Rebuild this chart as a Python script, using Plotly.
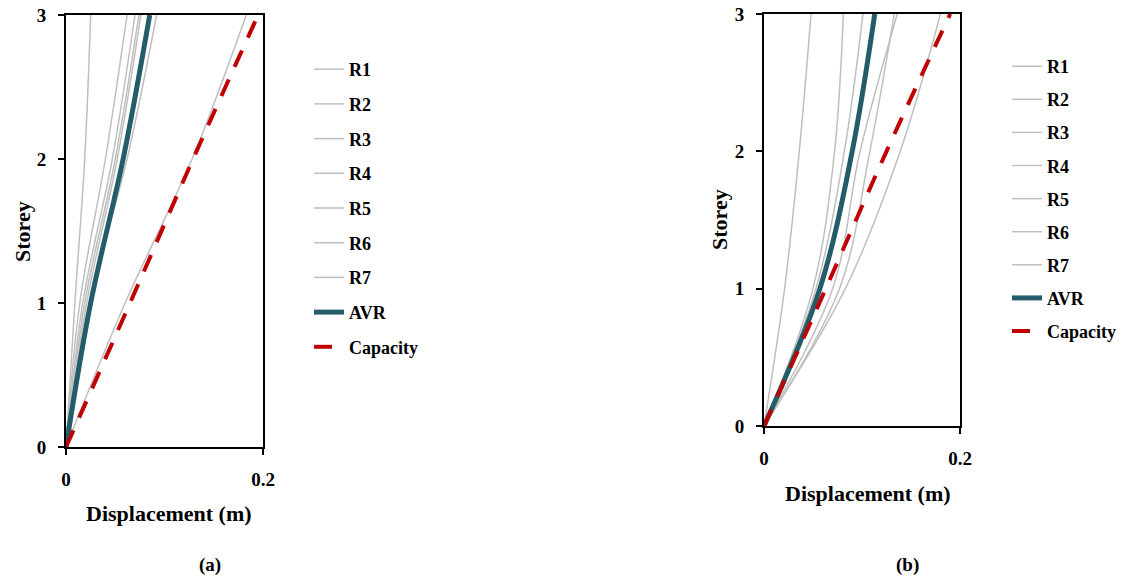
import plotly.graph_objects as go

# Storey levels shared by every profile
storeys = [0, 1, 2, 3]

# (a) peak storey displacements (m) for each record, the average and the capacity
a_R1 = [0, 0.009, 0.019, 0.025]
a_R2 = [0, 0.014, 0.040, 0.062]
a_R3 = [0, 0.017, 0.047, 0.070]
a_R4 = [0, 0.019, 0.050, 0.074]
a_R5 = [0, 0.021, 0.052, 0.076]
a_R6 = [0, 0.024, 0.062, 0.092]
a_R7 = [0, 0.060, 0.128, 0.183]
a_AVR = [0, 0.025, 0.058, 0.085]
a_capacity = [0, 0.065, 0.129, 0.195]

# (b) peak storey displacements (m)
b_R1 = [0, 0.021, 0.036, 0.048]
b_R2 = [0, 0.050, 0.072, 0.081]
b_R3 = [0, 0.053, 0.082, 0.101]
b_R4 = [0, 0.056, 0.090, 0.112]
b_R5 = [0, 0.070, 0.098, 0.136]
b_R6 = [0, 0.077, 0.108, 0.133]
b_R7 = [0, 0.083, 0.139, 0.180]
b_AVR = [0, 0.057, 0.090, 0.113]
b_capacity = [0, 0.063, 0.125, 0.190]

record_names = ["R1", "R2", "R3", "R4", "R5", "R6", "R7"]
x_ticks = [0, 0.2]
x_ticktext = ["0", "0.2"]
y_ticks = [0, 1, 2, 3]

GRAY = "#BFBFBF"
TEAL = "#245C6A"
RED = "#C00000"
FONT = "Liberation Serif"

W, H = 1125, 580

fig = go.Figure()


def add_panel(records, avr, capacity, xref, yref, legend_name):
    for name, vals in zip(record_names, records):
        fig.add_trace(go.Scatter(
            x=vals, y=storeys, name=name, mode="lines",
            line=dict(color=GRAY, width=1.5, shape="spline"),
            xaxis=xref, yaxis=yref, legend=legend_name,
            legendgroup=legend_name + name,
        ))
    fig.add_trace(go.Scatter(
        x=avr, y=storeys, name="AVR", mode="lines",
        line=dict(color=TEAL, width=5, shape="spline"),
        xaxis=xref, yaxis=yref, legend=legend_name,
        legendgroup=legend_name + "AVR",
    ))
    fig.add_trace(go.Scatter(
        x=capacity, y=storeys, name="Capacity", mode="lines",
        line=dict(color=RED, width=4, dash="18px,14px", shape="spline"),
        xaxis=xref, yaxis=yref, legend=legend_name,
        legendgroup=legend_name + "Capacity",
    ))


add_panel([a_R1, a_R2, a_R3, a_R4, a_R5, a_R6, a_R7], a_AVR, a_capacity,
          "x", "y", "legend")
add_panel([b_R1, b_R2, b_R3, b_R4, b_R5, b_R6, b_R7], b_AVR, b_capacity,
          "x2", "y2", "legend2")

axis_common = dict(
    showgrid=False, zeroline=False, automargin=False,
    showline=True, linecolor="black", linewidth=2, mirror=True,
    ticks="outside", ticklen=6, tickwidth=2, tickcolor="black",
    tickfont=dict(family=FONT, size=19, color="black", weight="bold"),
    ticklabelstandoff=8,
)

legend_font = dict(family=FONT, size=18, color="black", weight="bold")

fig.update_layout(
    width=W, height=H,
    margin=dict(l=0, r=0, t=0, b=0, pad=0, autoexpand=False),
    paper_bgcolor="white", plot_bgcolor="white",
    font=dict(family=FONT, size=18, color="black", weight="bold"),
    xaxis=dict(domain=[66 / W, 263 / W], anchor="y", range=[0, 0.2],
               tickvals=x_ticks, ticktext=x_ticktext, **axis_common),
    yaxis=dict(domain=[1 - 447 / H, 1 - 15 / H], anchor="x", range=[0, 3],
               tickvals=y_ticks, **axis_common),
    xaxis2=dict(domain=[764 / W, 960 / W], anchor="y2", range=[0, 0.2],
                tickvals=x_ticks, ticktext=x_ticktext, **axis_common),
    yaxis2=dict(domain=[1 - 426 / H, 1 - 14 / H], anchor="x2", range=[0, 3],
                tickvals=y_ticks, **axis_common),
    legend=dict(x=309 / W, y=1 - 51 / H, xanchor="left", yanchor="top",
                traceorder="grouped", tracegroupgap=8.3, font=legend_font,
                bgcolor="rgba(0,0,0,0)"),
    legend2=dict(x=1007 / W, y=1 - 48 / H, xanchor="left", yanchor="top",
                 traceorder="grouped", tracegroupgap=6.7, font=legend_font,
                 bgcolor="rgba(0,0,0,0)"),
)

title_font = dict(family=FONT, size=22, color="black", weight="bold")
label_font = dict(family=FONT, size=19, color="black", weight="bold")
texts = [
    ("Displacement (m)", 169, 513, 0, title_font),
    ("Displacement (m)", 867.5, 493, 0, title_font),
    ("Storey", 22, 232, -90, title_font),
    ("Storey", 719, 220, -90, title_font),
    ("(a)", 210, 565, 0, label_font),
    ("(b)", 907.5, 565, 0, label_font),
]
for text, px, py, angle, fnt in texts:
    fig.add_annotation(text=text, x=px / W, y=1 - py / H, xref="paper", yref="paper",
                       xanchor="center", yanchor="middle", showarrow=False,
                       textangle=angle, font=fnt)

fig.write_html("out.html")
